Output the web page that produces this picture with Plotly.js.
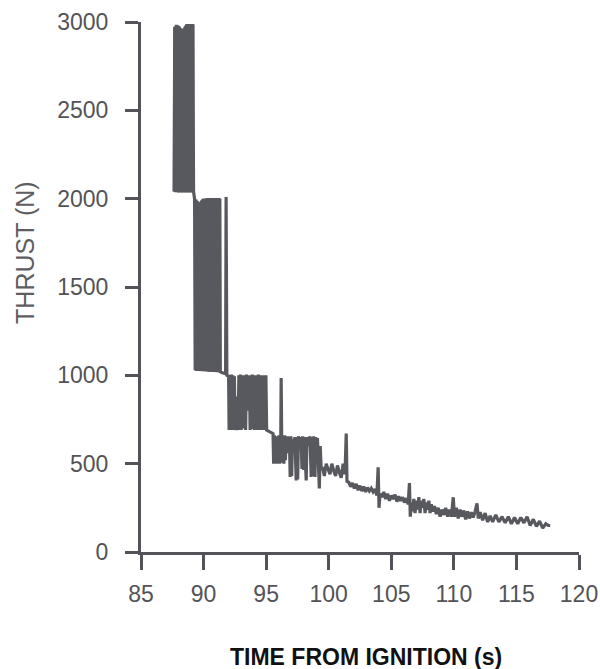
<!DOCTYPE html>
<html>
<head>
<meta charset="utf-8">
<script src="https://cdn.plot.ly/plotly-3.0.1.min.js"></script>
<style>html,body{margin:0;padding:0;background:#fff;}#chart{width:600px;height:669px;}</style>
</head>
<body>
<div id="chart"></div>
<script>
// Time from ignition (s)
const timeS = [
87.64,87.70,87.76,87.82,87.88,87.94,88.00,88.06,88.12,88.18,88.24,88.30,88.36,88.42,88.48,88.54,88.60,88.66,88.72,88.78,88.84,88.90,88.96,89.02,89.08,89.14,89.20,
89.28,89.34,89.40,89.46,89.52,89.58,89.64,89.70,89.76,89.82,89.88,89.94,90.00,90.06,90.12,90.18,90.24,90.30,90.36,90.42,90.48,90.54,90.60,90.66,90.72,90.78,90.84,90.90,90.96,91.02,91.08,91.14,91.20,91.26,91.30,
91.34,91.50,91.76,91.80,91.86,92.00,
92.04,92.10,92.16,92.22,92.28,92.34,92.40,92.46,92.52,92.58,92.64,92.70,92.76,92.82,92.88,92.94,93.00,93.06,93.12,93.18,93.24,93.30,93.36,93.42,93.48,93.54,93.60,93.66,93.72,93.78,93.84,93.90,93.96,94.02,94.08,94.14,94.20,94.26,94.32,94.38,94.44,94.50,94.56,94.62,94.68,94.74,94.80,94.86,94.92,94.98,95.04,
95.30,95.55,
95.60,95.66,95.72,95.78,95.84,95.90,95.96,96.02,96.08,96.14,96.17,96.20,96.24,96.30,96.36,96.42,96.48,96.54,96.60,96.66,96.72,96.80,96.86,96.92,96.98,97.04,97.10,97.20,97.30,97.40,97.46,97.52,97.58,97.70,97.80,97.86,97.92,98.00,98.06,98.20,98.26,98.40,98.50,98.60,98.66,98.72,98.80,98.90,98.96,99.00,99.10,99.25,99.32,99.40,
99.50,99.65,99.80,99.95,100.10,100.25,100.40,100.55,100.70,100.85,101.00,101.15,101.30,101.40,101.46,
101.60,101.75,101.90,102.05,102.20,102.35,102.50,102.65,102.80,102.95,103.10,103.25,103.40,103.55,103.70,103.85,103.95,104.02,104.10,
104.25,104.40,104.55,104.70,104.85,105.00,105.15,105.30,105.45,105.60,105.75,105.90,106.05,106.20,106.35,106.45,106.52,106.60,
106.70,106.80,106.90,107.00,107.10,107.20,107.30,107.40,107.50,107.60,107.70,107.80,107.90,108.00,108.10,108.20,108.30,108.45,108.60,108.75,108.90,109.05,109.20,109.35,109.50,109.65,109.80,109.95,110.05,
110.20,110.35,110.50,110.65,110.80,110.95,111.10,111.25,111.40,111.55,111.70,111.85,111.95,
112.10,112.30,112.50,112.70,112.90,113.10,113.35,113.60,113.85,114.10,114.35,114.60,114.85,115.10,115.35,115.60,115.85,116.10,116.35,116.60,116.85,117.10,117.35,117.55,117.70
];
// Thrust (N)
const thrustN = [
2040,2970,2045,2985,2040,2980,2035,2975,2040,2965,2035,2950,2040,2960,2035,2975,2035,2985,2040,2980,2035,2975,2040,2980,2035,2985,2040,
2000,1030,1995,1025,1985,1030,1970,1025,1975,1030,1990,1025,1995,1030,1990,1025,2000,1030,1995,1020,1990,1025,1995,1020,2000,1025,1990,1020,1995,1025,2000,1020,1990,1025,2000,
1020,1015,1010,2010,1000,995,
690,1000,695,1005,690,1000,700,995,690,880,695,870,690,1000,700,1005,690,1000,720,820,700,1000,690,1005,800,1000,810,995,690,1000,700,1005,695,1000,690,995,700,1000,690,1005,695,1000,690,995,700,1000,690,1000,695,1000,690,
680,670,
500,660,505,650,500,655,510,660,500,650,660,985,650,505,655,500,660,520,650,560,655,580,650,425,655,430,640,600,650,405,650,410,655,620,650,470,655,465,650,405,650,600,655,425,650,430,655,425,650,600,645,360,600,470,
480,430,500,470,440,500,460,430,490,450,420,500,440,670,400,
395,370,390,360,385,350,375,345,370,340,365,345,360,340,355,320,480,250,330,
310,340,300,330,290,320,300,325,285,315,290,310,280,305,270,390,200,280,
230,300,220,290,240,310,220,290,250,300,220,280,240,290,220,270,230,260,215,250,200,240,210,250,200,240,200,310,200,
250,190,240,200,235,185,230,190,225,195,230,275,190,
225,180,220,170,205,170,210,170,200,165,200,160,195,160,195,165,200,150,185,145,175,135,160,150,150
];
// Envelope (outline) of the two densest oscillation bands
const bandT = [87.64,87.64,88.00,88.30,88.60,89.20,89.20,87.64, null, 89.28,89.28,89.64,89.90,90.30,91.30,91.30,89.28];
const bandN = [2040,2970,2975,2950,2985,2985,2040,2040, null, 1030,2000,1970,1995,2000,2000,1020,1030];

const xTicks = [85, 90, 95, 100, 105, 110, 115, 120];
const yTicks = [0, 500, 1000, 1500, 2000, 2500, 3000];
const xTitle = "TIME FROM IGNITION (s)";
const yTitle = "THRUST (N)";

const ink = "#58585f";
const bands = {
  x: bandT, y: bandN, type: "scatter", mode: "lines", fill: "toself",
  fillcolor: ink, line: {color: ink, width: 1.5}, connectgaps: false, hoverinfo: "skip"
};
const trace = {
  x: timeS, y: thrustN, type: "scatter", mode: "lines",
  line: {color: ink, width: 3.2, shape: "linear", simplify: false},
  hoverinfo: "skip"
};
const axisCommon = {
  showgrid: false, zeroline: false, showline: true,
  linecolor: "#525258", linewidth: 3,
  ticks: "outside", tickcolor: "#525258", tickwidth: 3,
  tickfont: {family: "Liberation Sans, Arial, sans-serif", size: 23, color: "#535357"}
};
const layout = {
  width: 600, height: 669,
  margin: {l: 141, r: 21, t: 22, b: 117},
  paper_bgcolor: "#ffffff", plot_bgcolor: "#ffffff",
  showlegend: false,
  xaxis: Object.assign({}, axisCommon, {
    range: [85, 120], tickmode: "array", tickvals: xTicks, ticktext: xTicks.map(String),
    ticklen: 15, ticklabelstandoff: 4
  }),
  yaxis: Object.assign({}, axisCommon, {
    range: [0, 3000], tickmode: "array", tickvals: yTicks, ticktext: yTicks.map(String),
    ticklen: 13, ticklabelstandoff: 12
  }),
  annotations: [
    {text: yTitle, xref: "paper", yref: "paper", x: -0.265, y: 0.566, showarrow: false,
     textangle: -90, xanchor: "center", yanchor: "middle",
     font: {family: "Liberation Sans, Arial, sans-serif", size: 25, color: "#5d5d62"}},
    {text: xTitle, xref: "paper", yref: "paper", x: 0.514, y: -0.198, showarrow: false,
     xanchor: "center", yanchor: "middle",
     font: {family: "Liberation Sans, Arial, sans-serif", size: 23, color: "#111111", weight: "bold"}}
  ]
};
Plotly.newPlot("chart", [bands, trace], layout, {staticPlot: true, displayModeBar: false});
</script>
</body>
</html>
